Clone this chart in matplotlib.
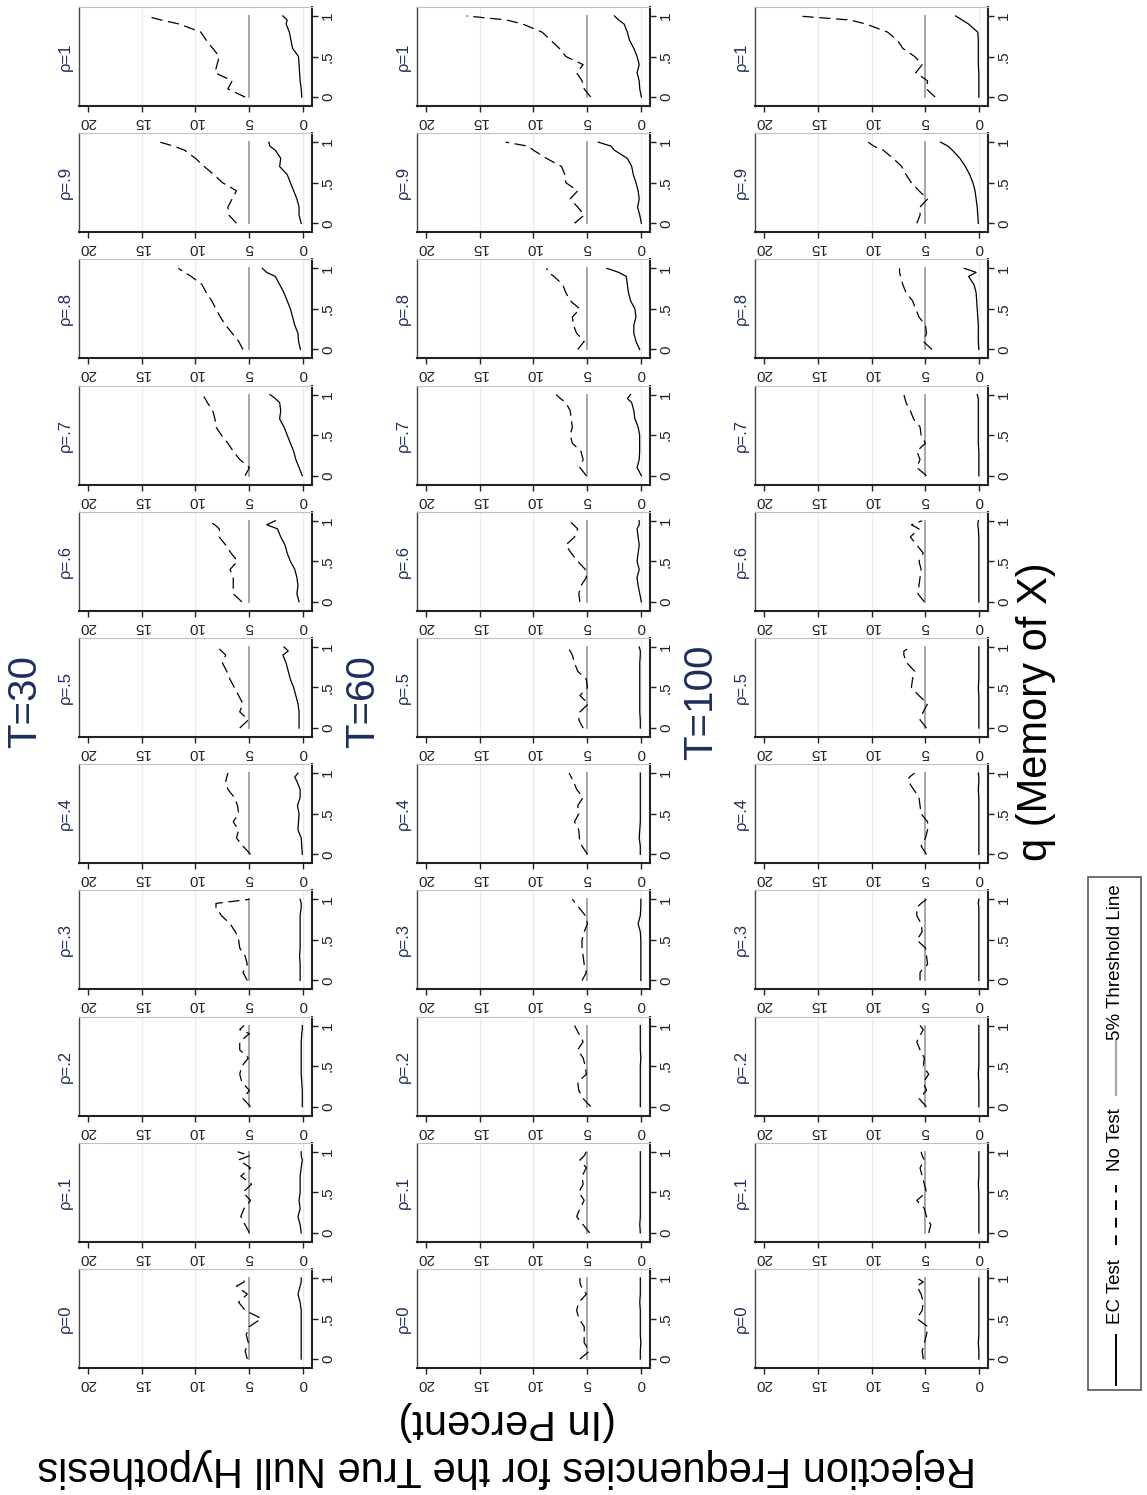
import matplotlib
matplotlib.use('Agg')
import matplotlib.pyplot as plt
from matplotlib import font_manager
from matplotlib.patches import Rectangle
from matplotlib.lines import Line2D

# ---------------- data ----------------
q_grid = [0.0, 0.1, 0.2, 0.3, 0.4, 0.5, 0.6, 0.7, 0.8, 0.9, 0.95, 1.0]
rho_labels = ['0', '.1', '.2', '.3', '.4', '.5', '.6', '.7', '.8', '.9', '1']
T_labels = ['T=30', 'T=60', 'T=100']
threshold = 5
freq_ticks = [0, 5, 10, 15, 20]
freq_tick_labels = ['0', '5', '10', '15', '20']
grid_vals = [0, 10, 15]
q_ticks = [0, 0.5, 1]
q_tick_labels = ['0', '.5', '1']

# rows: rho = 0, .1, ..., 1
ec_t30 = [
    [0.2, 0.2, 0.2, 0.2, 0.2, 0.2, 0.2, 0.3, 0.5, 0.3, 0.2, 0.2],
    [0.2, 0.3, 0.5, 0.3, 0.4, 0.3, 0.3, 0.3, 0.2, 0.1, 0.2, 0.2],
    [0.1, 0.1, 0.1, 0.15, 0.2, 0.2, 0.2, 0.2, 0.2, 0.15, 0.1, 0.1],
    [0.3, 0.3, 0.3, 0.35, 0.3, 0.3, 0.3, 0.3, 0.3, 0.2, 0.2, 0.3],
    [0.1, 0.15, 0.2, 0.5, 0.45, 0.4, 0.55, 0.3, 0.3, 0.6, 0.8, 0.5],
    [0.4, 0.4, 0.4, 0.5, 0.7, 0.9, 1.2, 1.4, 1.6, 1.9, 1.4, 1.8],
    [0.4, 0.6, 0.5, 0.6, 0.8, 1.2, 1.5, 1.7, 2.1, 2.4, 3.4, 2.6],
    [0.1, 0.4, 0.7, 0.9, 1.2, 1.5, 1.8, 2.2, 2.1, 2.2, 2.6, 3.1],
    [0.27, 0.45, 0.5, 0.8, 1.0, 1.2, 1.5, 1.8, 2.2, 2.6, 3.4, 3.8],
    [0.2, 0.4, 0.4, 0.6, 0.9, 1.2, 1.5, 2.2, 2.1, 2.6, 3.1, 3.2],
    [0.15, 0.2, 0.3, 0.35, 0.4, 0.45, 1.0, 1.15, 1.3, 1.6, 1.5, 1.9],
]
nt_t30 = [
    [5.2, 5.4, 5.1, 5.3, 5.0, 3.9, 5.4, 6.0, 5.2, 6.2, 5.5, 5.5],
    [5.0, 5.4, 5.8, 5.5, 4.9, 5.6, 4.8, 5.8, 4.9, 6.0, 5.0, 6.1],
    [4.9, 5.6, 5.0, 5.7, 5.9, 5.7, 5.1, 5.9, 5.9, 5.0, 5.9, 5.5],
    [5.2, 5.6, 5.2, 5.4, 5.9, 6.0, 6.3, 6.8, 7.6, 8.1, 8.1, 5.0],
    [4.9, 5.6, 6.2, 6.0, 6.5, 6.0, 6.1, 6.4, 7.0, 7.2, 7.1, 7.0],
    [5.9, 5.1, 5.9, 5.6, 6.0, 6.4, 6.8, 7.1, 7.5, 7.2, 7.6, 8.0],
    [5.7, 6.5, 6.5, 6.5, 6.8, 6.1, 6.7, 7.2, 7.8, 7.8, 8.2, 8.9],
    [5.4, 5.0, 5.9, 6.5, 7.0, 7.6, 8.1, 8.2, 8.4, 8.9, 9.1, 9.4],
    [5.6, 6.0, 6.6, 7.2, 7.7, 8.1, 8.5, 9.0, 9.4, 10.4, 11.0, 11.6],
    [6.2, 6.9, 7.0, 6.6, 6.2, 7.5, 8.3, 9.2, 10.0, 11.0, 12.0, 13.3],
    [5.4, 7.0, 6.6, 8.2, 8.0, 7.8, 8.4, 9.0, 9.5, 11.5, 13.2, 14.6],
]
ec_t60 = [
    [0.1, 0.1, 0.05, 0.1, 0.1, 0.1, 0.1, 0.15, 0.1, 0.1, 0.1, 0.1],
    [0.1, 0.15, 0.1, 0.1, 0.1, 0.1, 0.1, 0.1, 0.1, 0.1, 0.1, 0.1],
    [0.1, 0.1, 0.1, 0.1, 0.1, 0.1, 0.05, 0.1, 0.1, 0.1, 0.1, 0.1],
    [0.05, 0.05, 0.05, 0.05, 0.05, 0.05, 0.1, 0.3, 0.1, 0.05, 0.05, 0.05],
    [0.1, 0.1, 0.2, 0.15, 0.1, 0.1, 0.1, 0.1, 0.1, 0.1, 0.1, 0.1],
    [0.1, 0.1, 0.15, 0.15, 0.15, 0.15, 0.15, 0.15, 0.15, 0.1, 0.1, 0.2],
    [0.0, 0.15, 0.3, 0.4, 0.2, 0.4, 0.3, 0.2, 0.3, 0.4, 0.2, 0.2],
    [0.0, 0.4, 0.2, 0.16, 0.16, 0.16, 0.3, 0.6, 0.7, 0.9, 1.3, 1.0],
    [0.16, 0.5, 0.7, 0.7, 0.5, 0.6, 1.0, 1.2, 1.3, 1.4, 2.1, 3.2],
    [0.0, 0.15, 0.35, 0.2, 0.3, 0.5, 0.75, 0.9, 1.3, 2.5, 2.8, 4.0],
    [0.0, 0.15, 0.2, 0.4, 0.2, 0.4, 0.7, 1.1, 1.3, 1.6, 2.1, 2.5],
]
nt_t60 = [
    [5.7, 4.8, 5.3, 5.3, 5.3, 5.8, 6.0, 5.8, 5.1, 5.6, 5.7, 5.7],
    [4.8, 5.4, 6.0, 5.7, 5.3, 5.8, 5.4, 5.5, 5.1, 5.7, 5.3, 5.1],
    [4.7, 5.4, 5.8, 5.9, 5.1, 5.2, 5.4, 5.9, 5.4, 5.8, 6.0, 6.2],
    [5.5, 5.1, 5.3, 5.4, 5.5, 5.5, 5.3, 5.0, 5.2, 5.8, 6.1, 6.4],
    [5.0, 5.5, 5.75, 5.8, 6.2, 5.8, 5.9, 5.4, 6.0, 6.3, 6.5, 6.7],
    [5.4, 5.8, 5.7, 4.9, 5.7, 5.0, 5.1, 5.9, 6.2, 6.4, 6.6, 6.9],
    [5.7, 5.8, 5.6, 5.1, 5.2, 5.9, 6.5, 7.0, 6.2, 5.9, 6.3, 6.7],
    [5.1, 5.7, 5.4, 5.6, 6.4, 6.6, 6.4, 6.5, 6.6, 7.0, 7.5, 7.9],
    [5.9, 5.3, 6.0, 6.3, 6.4, 5.7, 6.6, 7.0, 7.3, 8.1, 8.6, 8.8],
    [6.2, 5.3, 5.9, 6.6, 5.9, 7.0, 7.1, 7.4, 8.8, 10.0, 10.5, 12.6],
    [4.7, 5.3, 5.5, 6.0, 5.4, 7.0, 7.6, 8.4, 9.2, 11.0, 12.5, 16.2],
]
ec_t100 = [
    [0.05, 0.05, 0.1, 0.05, 0.05, 0.05, 0.05, 0.05, 0.05, 0.05, 0.05, 0.05],
    [0.05, 0.05, 0.05, 0.05, 0.05, 0.05, 0.1, 0.05, 0.05, 0.05, 0.05, 0.05],
    [0.05, 0.05, 0.05, 0.05, 0.1, 0.05, 0.05, 0.05, 0.05, 0.05, 0.05, 0.05],
    [0.05, 0.05, 0.05, 0.05, 0.05, 0.05, 0.05, 0.05, 0.05, 0.05, 0.1, 0.05],
    [0.05, 0.05, 0.05, 0.05, 0.05, 0.05, 0.05, 0.05, 0.1, 0.05, 0.05, 0.1],
    [0.05, 0.05, 0.05, 0.05, 0.05, 0.1, 0.05, 0.05, 0.05, 0.05, 0.05, 0.05],
    [0.05, 0.05, 0.05, 0.05, 0.05, 0.05, 0.05, 0.05, 0.05, 0.1, 0.15, 0.1],
    [0.05, 0.05, 0.05, 0.05, 0.1, 0.1, 0.1, 0.1, 0.1, 0.1, 0.1, 0.2],
    [0.05, 0.1, 0.1, 0.1, 0.15, 0.2, 0.25, 0.3, 0.5, 1.0, 0.3, 1.4],
    [0.1, 0.15, 0.2, 0.3, 0.4, 0.6, 0.9, 1.3, 1.8, 2.5, 2.9, 3.6],
    [0.05, 0.05, 0.05, 0.05, 0.1, 0.1, 0.1, 0.1, 0.15, 1.0, 1.6, 2.2],
]
nt_t100 = [
    [5.2, 5.3, 5.1, 4.9, 4.8, 5.8, 5.3, 5.2, 5.4, 5.8, 5.2, 5.8],
    [4.7, 4.5, 4.9, 5.1, 5.8, 4.9, 5.1, 5.3, 5.5, 5.1, 5.3, 5.4],
    [4.9, 5.6, 4.9, 5.2, 4.7, 5.2, 5.1, 5.5, 5.8, 5.4, 5.2, 5.5],
    [5.5, 5.5, 4.8, 4.9, 5.0, 5.8, 5.3, 5.4, 5.8, 5.8, 5.4, 4.9],
    [4.9, 5.4, 5.0, 4.8, 4.8, 5.4, 5.5, 5.6, 6.1, 6.6, 6.5, 6.0],
    [4.9, 5.5, 5.2, 4.8, 5.6, 6.3, 6.2, 6.0, 6.7, 7.0, 7.0, 6.3],
    [5.1, 5.7, 5.6, 5.5, 5.4, 5.6, 5.2, 5.8, 6.4, 5.6, 6.3, 5.3],
    [4.9, 5.8, 5.5, 5.8, 5.0, 5.4, 5.5, 6.1, 6.4, 6.8, 6.9, 7.0],
    [4.4, 5.2, 4.9, 5.0, 5.6, 5.9, 6.2, 6.8, 7.1, 7.3, 7.4, 7.4],
    [5.8, 5.5, 5.5, 4.8, 5.6, 6.3, 6.8, 7.2, 8.0, 8.9, 9.8, 10.3],
    [4.1, 4.9, 4.8, 5.9, 5.3, 6.0, 7.1, 7.6, 8.5, 10.5, 12.0, 16.9],
]

legend_labels = ['EC Test', 'No Test', '5% Threshold Line']
ylabel_lines = ['Rejection Frequencies for the True Null Hypothesis', '(In Percent)']
xlabel_text = 'q (Memory of X)'

# ---------------- style / layout ----------------
W, H = 1147, 1495
names = {f.name for f in font_manager.fontManager.ttflist}
main_font = 'Liberation Sans' if 'Liberation Sans' in names else 'DejaVu Sans'
narrow_font = 'Liberation Sans Narrow' if 'Liberation Sans Narrow' in names else main_font
plt.rcParams['font.family'] = [main_font, 'DejaVu Sans']

navy = '#1e2f5e'
grid_col = '#e4eef0'
thr_col = '#a6a6a6'
dash = (0, (9, 4.5))

fig = plt.figure(figsize=(W / 100, H / 100), dpi=100)
fig.patch.set_facecolor('white')


def fx(x):
    return x / W


def fy(y):
    return 1 - y / H


columns = [(ec_t30, nt_t30), (ec_t60, nt_t60), (ec_t100, nt_t100)]
col_x0 = [79, 417, 755]
box_w, box_h = 233, 99
row_y0 = 7
row_pitch = 126.2

for ci, (ec_rows, nt_rows) in enumerate(columns):
    x0 = col_x0[ci]
    n = len(rho_labels)
    for ri in range(n):
        k = n - 1 - ri  # rho index (top row = rho 1)
        y0 = row_y0 + row_pitch * ri
        ax = fig.add_axes([fx(x0), fy(y0 + box_h), box_w / W, box_h / H])
        ax.set_xlim(20.8, -0.8)
        ax.set_ylim(-0.11, 1.11)
        for g in grid_vals:
            ax.axvline(g, color=grid_col, lw=1.0, zorder=0)
        ax.plot([threshold] * len(q_grid), q_grid, color=thr_col, lw=1.4, zorder=1)
        ax.plot(nt_rows[k], q_grid, color='black', lw=0.9, linestyle=dash, zorder=3)
        ax.plot(ec_rows[k], q_grid, color='black', lw=0.9, zorder=3)

        ax.set_xticks(freq_ticks)
        ax.set_xticklabels(freq_tick_labels, rotation=180, fontsize=11, color='#222222')
        ax.yaxis.tick_right()
        ax.set_yticks(q_ticks)
        ax.set_yticklabels(q_tick_labels, rotation=90, fontsize=11, va='center', color='#222222')
        ax.tick_params(axis='both', length=4.5, width=1.0, direction='out', pad=2, color='#222222')
        ax.spines['bottom'].set_color('#222222')
        ax.spines['bottom'].set_linewidth(1.5)
        ax.spines['right'].set_color('#222222')
        ax.spines['right'].set_linewidth(1.5)
        ax.spines['left'].set_color('#444444')
        ax.spines['left'].set_linewidth(1.0)
        ax.spines['top'].set_color('#c0c0c0')
        ax.spines['top'].set_linewidth(0.8)

        fig.text(fx(x0 - 14), fy(y0 + box_h / 2), '\u03c1=' + rho_labels[k], rotation=90,
                 ha='center', va='center', fontsize=12, color=navy)

# column titles
T_x = [25, 363, 701]
for ci, lab in enumerate(T_labels):
    fig.text(fx(T_x[ci]), fy(702), lab, rotation=90, ha='center', va='center',
             fontsize=29, color=navy)

# y title (rotated 180)
fig.text(fx(507), fy(1468), ylabel_lines[0], rotation=180, ha='center', va='center',
         fontsize=30, color='black')
fig.text(fx(507), fy(1421), ylabel_lines[1], rotation=180, ha='center', va='center',
         fontsize=30, color='black')

# x title
fig.text(fx(1036), fy(712), xlabel_text, rotation=90, ha='center', va='center',
         fontsize=30, color='black')

# legend
lx0, lx1, ly0, ly1 = 1088, 1141, 877, 1390
fig.add_artist(Rectangle((fx(lx0), fy(ly1)), (lx1 - lx0) / W, (ly1 - ly0) / H,
                         transform=fig.transFigure, facecolor='white',
                         edgecolor='#555555', lw=1.2))
cx = 1116
fig.add_artist(Line2D([fx(cx), fx(cx)], [fy(1385), fy(1335)], transform=fig.transFigure,
                      color='black', lw=1.4))
fig.text(fx(cx), fy(1292), legend_labels[0], rotation=90, ha='center', va='center',
         fontsize=13.5, family=[narrow_font, 'DejaVu Sans'], color='black')
fig.add_artist(Line2D([fx(cx), fx(cx)], [fy(1245), fy(1185)], transform=fig.transFigure,
                      color='black', lw=1.4, linestyle=(0, (5, 4))))
fig.text(fx(cx), fy(1140), legend_labels[1], rotation=90, ha='center', va='center',
         fontsize=13.5, family=[narrow_font, 'DejaVu Sans'], color='black')
fig.add_artist(Line2D([fx(cx), fx(cx)], [fy(1095), fy(1040)], transform=fig.transFigure,
                      color=thr_col, lw=1.6))
fig.text(fx(cx), fy(962), legend_labels[2], rotation=90, ha='center', va='center',
         fontsize=13.5, family=[narrow_font, 'DejaVu Sans'], color='black')

fig.savefig('out.png', dpi=100, facecolor='white')
